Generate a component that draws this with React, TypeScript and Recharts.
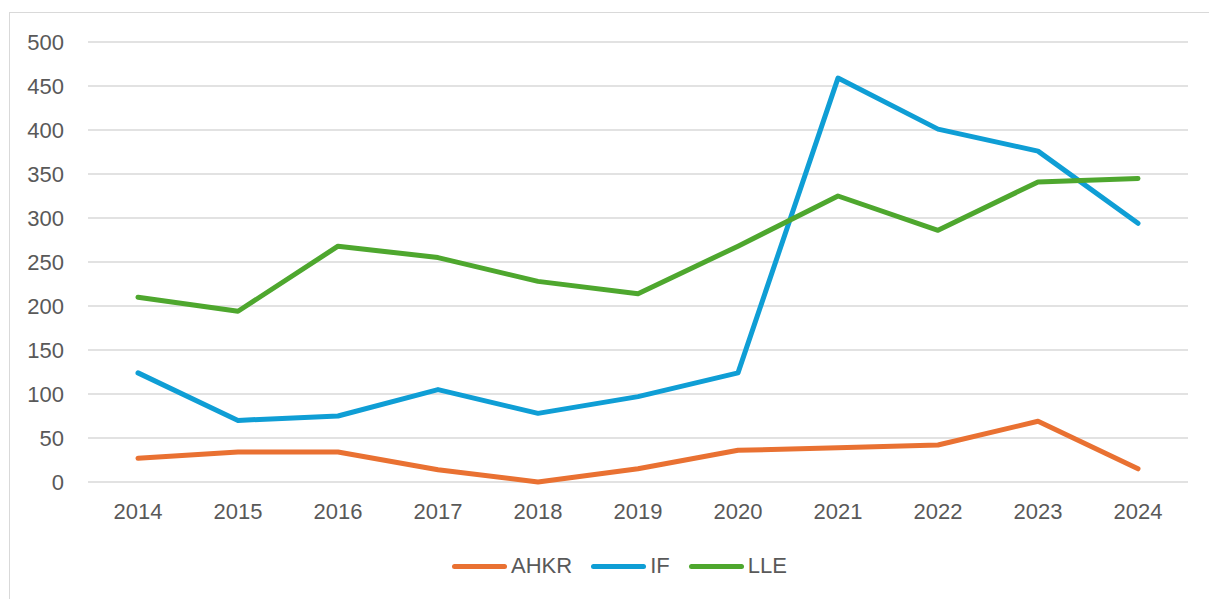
import React from "react";
import { LineChart, Line, XAxis, YAxis, CartesianGrid, Legend } from "recharts";

const years = ["2014", "2015", "2016", "2017", "2018", "2019", "2020", "2021", "2022", "2023", "2024"];
const ahkr = [27, 34, 34, 14, 0, 15, 36, 39, 42, 69, 15];
const ifs = [124, 70, 75, 105, 78, 97, 124, 459, 401, 376, 294];
const lle = [210, 194, 268, 255, 228, 214, 268, 325, 286, 341, 345];
const yTicks = [0, 50, 100, 150, 200, 250, 300, 350, 400, 450, 500];

const series = [
  { key: "AHKR", color: "#E97132" },
  { key: "IF", color: "#0F9ED5" },
  { key: "LLE", color: "#4EA72E" },
];

const data = years.map((y, i) => ({ year: y, AHKR: ahkr[i], IF: ifs[i], LLE: lle[i] }));

const FONT = "'Liberation Sans', Arial, sans-serif";

const LegendContent = () => (
  <div style={{ display: "flex", alignItems: "center", height: 24, fontFamily: FONT, fontSize: 22, color: "#595959", lineHeight: "24px" }}>
    {series.map((s, i) => (
      <div key={s.key} style={{ display: "flex", alignItems: "center", marginRight: i < series.length - 1 ? 19 : 0 }}>
        <div style={{ width: 55, height: 5, borderRadius: 3, background: s.color, marginRight: 4 }} />
        <span>{s.key}</span>
      </div>
    ))}
  </div>
);

export default function App() {
  return (
    <div style={{ position: "absolute", left: 0, top: 0, width: 1209, height: 599, overflow: "hidden", background: "#fff" }}>
      <div style={{ position: "absolute", left: 9, top: 12, width: 1220, height: 620, border: "1.5px solid #d9d9d9" }} />
      <div style={{ position: "absolute", left: 0, top: 0 }}>
        <LineChart width={1209} height={599} data={data} margin={{ top: 42, right: 21, bottom: 0, left: 0 }}>
          <CartesianGrid vertical={false} stroke="#d9d9d9" strokeWidth={1.5} />
          <XAxis
            dataKey="year"
            axisLine={false}
            tickLine={false}
            tickSize={0}
            tickMargin={21}
            height={93}
            padding={{ left: 50, right: 50 }}
            tick={{ fill: "#595959", fontSize: 22, fontFamily: FONT }}
            interval={0}
          />
          <YAxis
            domain={[0, 500]}
            ticks={yTicks}
            width={88}
            axisLine={false}
            tickLine={false}
            tickSize={0}
            tickMargin={24}
            tick={{ fill: "#595959", fontSize: 22, fontFamily: FONT }}
            interval={0}
          />
          <Legend content={<LegendContent />} wrapperStyle={{ left: 452, top: 554, width: 360, height: 24 }} />
          {series.map((s) => (
            <Line
              key={s.key}
              dataKey={s.key}
              stroke={s.color}
              strokeWidth={5}
              dot={false}
              activeDot={false}
              strokeLinecap="round"
              strokeLinejoin="round"
              isAnimationActive={false}
              type="linear"
            />
          ))}
        </LineChart>
      </div>
    </div>
  );
}
